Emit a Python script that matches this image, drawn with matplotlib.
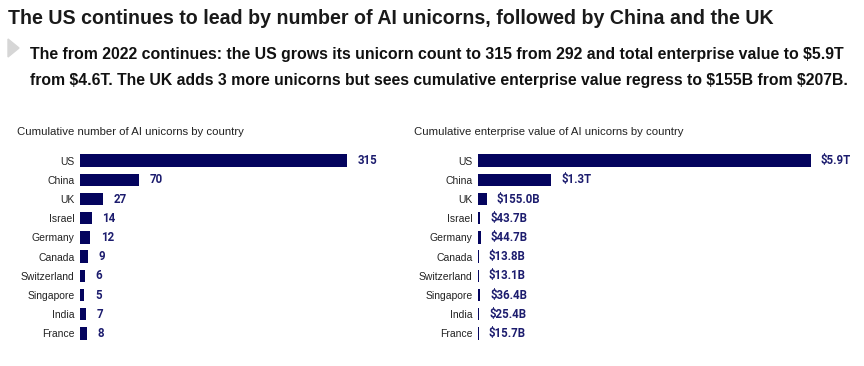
import matplotlib.pyplot as plt
from matplotlib.patches import Polygon

# data
countries = ['US', 'China', 'UK', 'Israel', 'Germany', 'Canada',
             'Switzerland', 'Singapore', 'India', 'France']
unicorns = [315, 70, 27, 14, 12, 9, 6, 5, 7, 8]
ev_trillions = [5.9, 1.3, 0.155, 0.0437, 0.0447, 0.0138, 0.0131, 0.0364, 0.0254, 0.0157]
ev_labels = ['$5.9T', '$1.3T', '$155.0B', '$43.7B', '$44.7B', '$13.8B',
             '$13.1B', '$36.4B', '$25.4B', '$15.7B']

bar_color = '#04045e'
label_color = '#1c1c6e'

plt.rcParams['font.family'] = ['Liberation Sans', 'DejaVu Sans']
num_font = ['Roboto', 'DejaVu Sans']

fig = plt.figure(figsize=(8.64, 3.66), dpi=100)

fig.text(8/864, 1-18/366, 'The US continues to lead by number of AI unicorns, followed by China and the UK',
         fontsize=14.1, fontweight='bold', color='#1a1a1a', va='center', ha='left')
tri = Polygon([[8/864, 1-39/366], [8/864, 1-57/366], [19/864, 1-48/366]],
              closed=True, transform=fig.transFigure, color='#d6d6d6')
fig.patches.append(tri)
fig.text(30/864, 1-55/366,
         'The from 2022 continues: the US grows its unicorn count to 315 from 292 and total enterprise value to $5.9T',
         fontsize=11.4, fontweight='bold', color='#111111', va='center', ha='left')
fig.text(30/864, 1-80/366,
         'from $4.6T. The UK adds 3 more unicorns but sees cumulative enterprise value regress to $155B from $207B.',
         fontsize=11.3, fontweight='bold', color='#111111', va='center', ha='left')

bottom = 1 - 343/366
height = 192/366

ax1 = fig.add_axes([80/864, bottom, 267/864, height])
ax2 = fig.add_axes([478/864, bottom, 333/864, height])

ypos = list(range(len(countries)))

ax1.barh(ypos, unicorns, height=0.65, color=bar_color)
for y, v in zip(ypos, unicorns):
    ax1.text(v + 315*0.04, y, str(v), va='center', ha='left', fontsize=8.3,
             family=num_font, fontweight='bold', color=label_color)
ax1.set_xlim(0, 315)

ax2.barh(ypos, ev_trillions, height=0.65, color=bar_color)
for y, v, s in zip(ypos, ev_trillions, ev_labels):
    ax2.text(v + 5.9*0.03, y, s, va='center', ha='left', fontsize=8.3,
             family=num_font, fontweight='bold', color=label_color)
ax2.set_xlim(0, 5.9)

for ax in (ax1, ax2):
    ax.set_ylim(len(countries) - 0.5, -0.5)
    ax.set_yticks(ypos)
    ax.set_yticklabels(countries, fontsize=7.5, color='#222222')
    ax.tick_params(axis='y', length=0, pad=4)
    ax.set_xticks([])
    for sp in ax.spines.values():
        sp.set_visible(False)
    ax.patch.set_alpha(0)

fig.text(17/864, 1-132/366, 'Cumulative number of AI unicorns by country', fontsize=8.2,
         color='#222222', va='center', ha='left')
fig.text(414/864, 1-132/366, 'Cumulative enterprise value of AI unicorns by country', fontsize=8.2,
         color='#222222', va='center', ha='left')

fig.savefig('out.png', dpi=100)
